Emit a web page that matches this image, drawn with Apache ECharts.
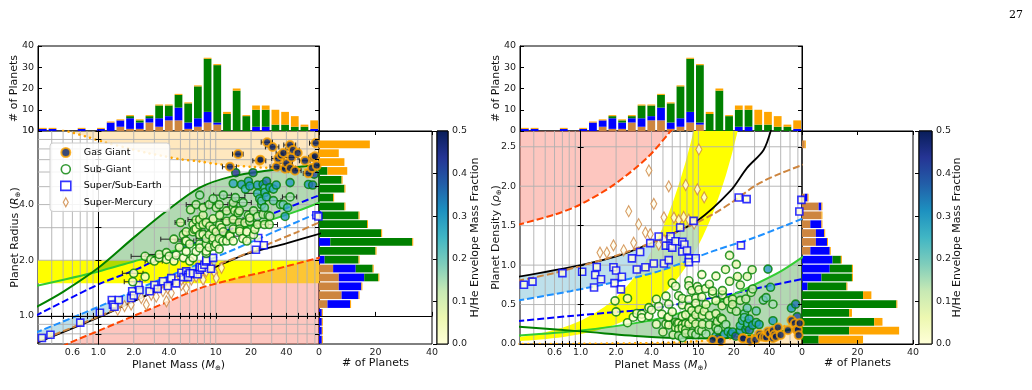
<!DOCTYPE html>
<html>
<head>
<meta charset="utf-8">
<script src="https://cdn.jsdelivr.net/npm/echarts@6/dist/echarts.min.js"></script>
<style>
  html, body { margin: 0; padding: 0; background: #fff; }
  #chart { width: 1032px; height: 390px; }
</style>
</head>
<body>
<div id="chart"></div>
<script>
var FONT = 'DejaVu Sans';

// ---- axis limits / ticks ----
var X0 = -0.515, X1 = 1.88;      // log10 mass limits
var R0 = -0.152, R1 = 1.0;       // log10 radius limits
var massGrid = [0.4,0.5,0.6,0.7,0.8,0.9,1,2,3,4,5,6,7,8,9,10,20,30,40,50,60,70];
var massTicks = [0.6,1,2,4,10,20,40];
var massTickLabels = ['0.6','1.0','2.0','4.0','10','20','40'];
var radiusGrid = [0.8,0.9,1,2,3,4,5,6,7,8,9,10];
var radiusTicks = [1,2,4,10];
var radiusTickLabels = ['1.0','2.0','4.0','10'];
var densityGrid = [0.5,1,1.5,2,2.5];
var densityTicks = [0,0.5,1,1.5,2,2.5];

// ---- histograms (stacked: mercury, earth, sub-giant, gas giant) ----
// mass: 29 log bins, left to right
var massHistMercury = [0,0,0,0,0,0,0,0,2,1,1,4,2,5,5,1,2,4,3,0,0,0,0,0,0,0,0,0,0];
var massHistEarth   = [1,1,0,0,1,0,1,4,3,5,3,2,4,2,6,3,4,5,1,0,0,0,2,2,0,0,0,0,1];
var massHistSub     = [0,0,0,0,0,0,0,0,0,1,1,1,6,5,6,9,15,25,27,8,19,7,8,8,3,3,2,2,0];
var massHistGas     = [0,0,0,0,0,0,0,0,0,0,0,0,0,0,0,0,0,0,0,1,1,0,2,2,7,6,5,1,4];
// radius: 24 log bins, top to bottom
var radHistMercury = [0,0,0,0,0,0,0,0,0,0,0,0,0,0,0,5,7,7,8,3,0,0,0,0];
var radHistEarth   = [0,0,0,0,0,0,0,0,0,1,0,0,4,0,2,8,9,8,6,8,1,1,1,1];
var radHistSub     = [0,0,0,0,3,8,9,5,9,13,17,22,29,20,12,6,5,0,0,0,0,0,0,0];
var radHistGas     = [0,18,7,9,7,0,0,0,0,0,0,0,0,0,0,0,0,0,0,0,0,0,0,0];
// density: 24 linear bins, top to bottom
var denHistMercury = [0,1,0,0,0,0,0,1,6,7,3,5,5,3,0,0,0,0,0,0,0,0,0,0];
var denHistEarth   = [0,0,0,0,0,0,0,1,1,0,4,3,4,7,11,10,7,2,0,0,0,0,0,0];
var denHistSub     = [0,0,0,0,0,0,0,0,0,0,0,0,0,0,3,8,11,14,22,34,17,26,17,6];
var denHistGas     = [0,0,0,0,0,0,0,0,0,0,0,0,0,0,0,0,0,0,3,0,1,3,18,16];

// ---- planets: [mass, radius, H/He fraction, mass error] ----
var gasGiants = [
  [13.2,6.4,0.5,1.8],[15.5,7.5,0.5,1.6],[23.7,6.9,0.5,3],[24,7.0,0.5,0],[27.4,8.7,0.5,3],
  [30.5,8.2,0.5,4],[33,6.4,0.5,4],[34,7.1,0.5,4],[36,7.4,0.5,0],[37.7,7.6,0.5,5],
  [38.9,6.25,0.5,5],[40,6.7,0.5,5],[43,8.4,0.5,5],[43,6.3,0.5,5],[44.3,7.2,0.5,6],
  [45.5,7.9,0.5,6],[47.4,6.1,0.5,6],[50,7.6,0.5,0],[57.6,6.9,0.5,6],[61.7,5.9,0.5,6],
  [66,6.3,0.5,0],[68,7.2,0.5,6],[70,7.3,0.5,6],[71,8.6,0.5,8],[72.5,6.5,0.5,5]
];
var subGiants = [
  [1.96,1.53,0.01,0.3],[2.0,1.70,0.01,0.4],[2.5,1.63,0.01,0],[2.5,2.10,0.02,0.6],[2.8,2.02,0.02,0],
  [3.0,1.98,0.02,0.5],[3.3,2.06,0.02,0],[3.3,2.15,0.02,0.8],[3.8,2.20,0.02,0],[3.8,2.02,0.02,0],
  [4.0,2.10,0.02,0.8],[4.4,1.98,0.02,0],[4.4,2.60,0.03,1.0],[4.6,2.13,0.02,0],[4.9,2.35,0.03,0],
  [5.0,3.20,0.08,0.5],[5.3,2.06,0.02,0],[5.3,2.75,0.04,0],[5.5,2.54,0.03,1.0],[5.6,2.23,0.02,0],
  [5.6,2.85,0.05,0],[5.6,2.54,0.03,0],[6.0,1.98,0.02,0],[6.0,2.45,0.03,0],[6.1,3.75,0.10,0],
  [6.4,2.06,0.02,0],[6.4,2.85,0.05,1.2],[6.4,3.12,0.06,0],[6.6,2.93,0.05,0],[6.8,2.23,0.02,0],
  [6.8,2.95,0.05,0],[6.8,3.30,0.07,0],[6.8,4.00,0.12,1.2],[7.3,2.45,0.03,0],[7.3,2.75,0.04,0],
  [7.3,3.10,0.06,0],[7.3,3.32,0.07,1.5],[7.3,4.50,0.15,0],[7.3,2.33,0.03,0],[7.8,3.12,0.06,0],
  [7.8,3.50,0.08,0],[7.8,3.85,0.10,0],[7.8,2.76,0.04,0],[8.3,2.18,0.02,0],[8.3,2.45,0.03,0],
  [8.3,2.62,0.04,1.5],[8.3,3.20,0.06,0],[8.3,2.24,0.02,0],[8.8,2.35,0.03,0],[8.8,2.75,0.04,0],
  [8.8,4.00,0.12,0],[8.9,3.06,0.05,2],[9.5,2.54,0.03,0],[9.5,2.95,0.05,0],[9.5,3.35,0.07,0],
  [9.5,4.30,0.14,0],[9.5,2.64,0.04,0],[9.8,2.38,0.03,0],[10.1,2.45,0.03,0],[10.1,2.85,0.05,2],
  [10.1,3.85,0.10,0],[10.7,2.30,0.02,0],[10.7,2.62,0.04,0],[10.7,4.00,0.12,2],[10.8,3.10,0.06,0],
  [10.8,3.50,0.08,0],[11.2,3.00,0.05,0],[11.5,2.54,0.03,0],[11.6,2.85,0.05,0],[11.6,4.50,0.15,2],
  [12.4,2.54,0.03,0],[12.4,3.25,0.07,0],[12.4,3.70,0.09,2],[13.2,2.75,0.04,0],[13.2,2.70,0.04,3],
  [14.1,2.95,0.05,0],[14.1,2.54,0.03,0],[14.1,3.32,0.07,3],[14.1,3.85,0.10,0],[14.1,4.10,0.12,0],
  [14.1,5.20,0.28,0],[14.5,3.70,0.09,0],[14.7,4.36,0.15,3],[14.8,5.95,0.45,0],[15.5,3.61,0.09,0],
  [15.9,3.20,0.07,3],[15.9,3.70,0.10,0],[16.0,2.95,0.05,0],[16.0,2.87,0.05,0],[16.6,5.14,0.30,0],
  [17.0,2.62,0.04,0],[17.1,4.10,0.15,3],[17.7,3.19,0.07,0],[17.9,4.85,0.25,0],[18.4,2.85,0.05,0],
  [18.4,2.54,0.04,0],[19.0,5.35,0.30,0],[19.0,3.50,0.10,0],[19.5,3.25,0.08,4],[19.5,3.39,0.08,0],
  [19.5,5.04,0.30,0],[20.8,5.95,0.40,0],[21.0,2.75,0.05,0],[21.0,3.70,0.12,4],[21.5,2.93,0.06,0],
  [22.7,5.10,0.30,0],[22.7,3.45,0.10,0],[22.7,3.12,0.08,0],[22.7,4.60,0.25,5],[23.7,4.30,0.25,0],
  [24.6,4.00,0.20,0],[24.6,4.18,0.22,0],[25.3,3.54,0.12,0],[25.3,5.14,0.32,0],[26.0,3.85,0.20,0],
  [26.2,4.90,0.22,0],[26.2,4.65,0.25,0],[26.0,3.12,0.08,0],[27.0,4.40,0.28,0],[27.1,5.35,0.35,0],
  [28.0,3.50,0.12,0],[28.6,3.12,0.08,5],[28.9,3.46,0.12,0],[28.9,4.94,0.30,0],[31.0,4.85,0.25,0],
  [31.0,4.20,0.20,5],[32.8,5.10,0.30,0],[35.6,4.00,0.18,0],[37.6,4.00,0.20,0],[39.0,3.45,0.30,0],
  [41.0,3.85,0.25,0],[43.0,4.40,0.15,6],[43.0,5.26,0.30,0],[61.7,5.14,0.30,0],[67.0,5.10,0.35,0],
  [69.0,5.84,0.40,0]
];
var superEarths = [
  [0.33,0.76],[0.39,0.79],[0.70,0.92],[1.03,1.04],[1.30,1.22],[1.33,1.15],[1.37,1.12],[1.49,1.22],
  [1.90,1.25],[1.94,1.36],[2.0,1.29],[2.2,1.47],[2.24,1.38],[2.73,1.36],[3.0,1.47],[3.2,1.40],
  [3.55,1.54],[3.9,1.45],[4.18,1.60],[4.6,1.50],[5.1,1.71],[5.3,1.62],[5.6,1.74],[5.8,1.67],
  [5.8,1.62],[6.0,1.70],[6.4,1.70],[7.0,1.68],[7.3,1.78],[7.3,1.84],[7.6,1.82],[8.0,1.89],
  [8.3,1.97],[8.3,2.00],[9.1,1.80],[9.5,2.06],[22,2.28],[23,2.64],[25.7,2.41],[72,3.5],[75,3.45]
];
var superMercuries = [
  [1.46,1.08],[1.67,1.13],[1.9,1.15],[2.32,1.25],[2.56,1.15],[2.82,1.30],[3.11,1.27],[3.55,1.36],
  [3.8,1.20],[3.9,1.41],[4.18,1.33],[4.6,1.54],[5.1,1.47],[5.1,1.57],[5.6,1.41],[6.2,1.57],
  [6.8,1.63],[7.5,1.67],[7.8,1.57],[8.3,1.74],[9.2,1.82],[9.8,1.71],[10.1,1.60],[11.2,1.82]
];

// ---- model curves, mass-radius plane [M, R] ----
var ironMR      = [[0.29,0.57],[0.53,0.70],[1,0.83],[2,1.0],[4,1.2],[7.3,1.41],[14,1.58],[27,1.74],[80,2.08]];
var rockyMR     = [[0.29,0.71],[1,0.98],[3.67,1.43],[10,1.84],[18.7,2.17],[40,2.47],[80,2.8]];
var mercuryMR   = [[0.29,0.72],[1,0.99],[3.67,1.44],[9.1,1.83],[19.9,2.22],[31.4,2.52],[49.4,2.84],[80,3.25]];
var waterMR     = [[0.29,0.81],[1,1.12],[2.18,1.4],[4.76,1.72],[13.5,2.25],[30,2.81],[80,3.68]];
var envMR       = [[0.29,1.0],[1,1.48],[2.18,1.8],[3.8,2.14],[13.5,2.95],[35,3.7],[80,4.55]];
var subLowMR    = [[0.29,1.45],[1,1.74],[2,1.97],[3.8,2.19],[7.3,2.48],[14,2.87],[27,3.25],[50,3.7],[80,4.15]];
var subHighMR   = [[0.29,1.11],[0.5,1.35],[1,1.82],[2,2.65],[3.8,3.69],[7.3,4.94],[14,5.7],[27,6.1],[60,6.47],[80,6.55]];
var giantMR     = [[0.5,10.1],[0.6,9.8],[0.8,9.3],[1.12,8.7],[1.89,8.0],[2.62,7.6],[3.64,7.3],[5.25,7.0],[7.3,6.84],[10.1,6.63],[20,6.4],[40,6.25],[80,6.1]];
var yellowBandR = [1.5, 2.0];
var blueFillMaxMass = 10;

// ---- model curves, mass-density plane [M, rho] ----
var ironMD    = [[0.29,1.51],[0.6,1.64],[1,1.77],[1.92,2.02],[3.67,2.36],[5.6,2.67],[6.2,2.76]];
var rockyMD   = [[0.29,0.85],[1,1.0],[2.2,1.13],[5.1,1.35],[9.75,1.56],[18.7,1.94],[25.8,2.23],[35.8,2.46],[42,2.75]];
var mercuryMD = [[0.29,0.8],[0.6,0.9],[1,0.99],[2,1.12],[5,1.34],[9.1,1.52],[13.5,1.65],[19.9,1.81],[31.4,2.02],[49.4,2.16],[80,2.28]];
var waterMD   = [[0.29,0.55],[0.82,0.67],[2.18,0.80],[4.76,0.93],[13.5,1.18],[30,1.35],[80,1.6]];
var envMD     = [[0.29,0.29],[0.82,0.355],[2.18,0.41],[3.67,0.44],[13.5,0.59],[35,0.72],[80,0.83]];
var subLowMD  = [[0.29,0.105],[1,0.17],[3.67,0.29],[7.3,0.4],[14,0.53],[27,0.72],[50,0.92],[80,1.12]];
var subHighMD = [[0.29,0.22],[1,0.16],[3.67,0.092],[9,0.072],[15,0.07],[27,0.1],[50,0.16],[80,0.22]];
var giantMD   = [[0.29,0.0],[1,0.002],[5,0.015],[10,0.036],[20,0.075],[40,0.16],[80,0.33]];

// ---- colours ----
var C_MERC = '#cd853f', C_EARTH = '#0000ff', C_SUB = '#008000', C_GAS = '#ffa500';
var ylgnbu = ['#ffffd9','#edf8b1','#c7e9b4','#7fcdbb','#41b6c4','#1d91c0','#225ea8','#253494','#081d58'];

function hexRgb(h){ return [parseInt(h.substr(1,2),16), parseInt(h.substr(3,2),16), parseInt(h.substr(5,2),16)]; }
function cmap(f){
  var t = Math.max(0, Math.min(1, f / 0.5)) * (ylgnbu.length - 1);
  var i = Math.min(Math.floor(t), ylgnbu.length - 2), u = t - i;
  var a = hexRgb(ylgnbu[i]), b = hexRgb(ylgnbu[i + 1]);
  return 'rgb(' + [0,1,2].map(function(k){ return Math.round(a[k] + u * (b[k] - a[k])); }).join(',') + ')';
}

var lg = Math.log10;
function mr(p){ return [lg(p[0]), lg(p[1])]; }
function md(p){ return [lg(p[0]), p[1]]; }
function rho(p){ return p[0] / Math.pow(p[1], 3); }

function interpAt(c, x){
  for (var i = 0; i < c.length - 1; i++) {
    if (x >= c[i][0] && x <= c[i+1][0]) {
      var t = (x - c[i][0]) / (c[i+1][0] - c[i][0]);
      return c[i][1] + t * (c[i+1][1] - c[i][1]);
    }
  }
  return x < c[0][0] ? c[0][1] : c[c.length-1][1];
}
function slice(c, x0, x1){
  var out = [[x0, interpAt(c, x0)]];
  c.forEach(function(p){ if (p[0] > x0 && p[0] < x1) out.push(p); });
  out.push([x1, interpAt(c, x1)]);
  return out;
}
function band(a, b, x0, x1){ return slice(a, x0, x1).concat(slice(b, x0, x1).reverse()); }
function crossing(a, b){
  var lo = Math.max(a[0][0], b[0][0]), hi = Math.min(a[a.length-1][0], b[b.length-1][0]), prev = null;
  for (var k = 0; k <= 400; k++) {
    var x = lo + (hi - lo) * k / 400, d = interpAt(a, x) - interpAt(b, x);
    if (prev !== null && (d > 0) !== (prev > 0)) return x;
    prev = d;
  }
  return lo;
}

// ---- grids ----
var grids = [
  {left: 38,  top: 46,  width: 281, height: 85},   // 0 L top hist
  {left: 38,  top: 131, width: 281, height: 213},  // 1 L main
  {left: 319, top: 131, width: 113, height: 213},  // 2 L right hist
  {left: 437, top: 131, width: 11,  height: 213},  // 3 L colourbar
  {left: 520, top: 46,  width: 282, height: 85},   // 4 R top hist
  {left: 520, top: 131, width: 282, height: 213},  // 5 R main
  {left: 802, top: 131, width: 111, height: 213},  // 6 R right hist
  {left: 919, top: 131, width: 13,  height: 213}   // 7 R colourbar
].map(function(g){ g.show = true; g.borderColor = '#000'; g.borderWidth = 1; g.containLabel = false; return g; });

var nameStyle = {fontFamily: FONT, fontSize: 11, color: '#111',
  rich: {i: {fontFamily: FONT, fontSize: 11, fontStyle: 'italic', color: '#111'},
         s: {fontFamily: FONT, fontSize: 7, color: '#111', padding: [7, 0, 0, 0]}}};

function fmtFrom(vals, labels){
  return function(v){
    for (var i = 0; i < vals.length; i++) if (Math.abs(lg(vals[i]) - v) < 1e-6) return labels[i];
    return '';
  };
}
function tickOnly(base){
  var a = {axisLine: {show: true, lineStyle: {color: '#000', width: 1}},
           axisTick: {show: true, inside: true, length: 3, lineStyle: {color: '#000'}},
           axisLabel: {show: false}, splitLine: {show: false}, z: 10, nameMoveOverlap: false};
  for (var k in base) a[k] = base[k];
  return a;
}
var massCats = massHistSub.map(function(_, i){ return 'm' + i; });
var radCats = radHistSub.map(function(_, i){ return 'r' + i; });

var xAxes = [
  // 0 L top hist
  {gridIndex: 0, type: 'category', data: massCats, show: false},
  // 1 L main bottom
  tickOnly({gridIndex: 1, type: 'value', min: X0, max: X1, position: 'bottom',
    axisTick: {show: true, inside: true, length: 3, customValues: massGrid.map(lg), lineStyle: {color: '#000'}},
    axisLabel: {show: true, customValues: massTicks.map(lg), formatter: fmtFrom(massTicks, massTickLabels), margin: 4, fontFamily: FONT, fontSize: 9.5, color: '#222'},
    name: 'Planet Mass ({i|M}{s|\u2295})', nameLocation: 'middle', nameGap: 14, nameTextStyle: nameStyle}),
  // 2 L main top
  tickOnly({gridIndex: 1, type: 'value', min: X0, max: X1, position: 'top',
    axisTick: {show: true, inside: true, length: 3, customValues: massGrid.map(lg), lineStyle: {color: '#000'}}}),
  // 3 L right hist bottom
  tickOnly({gridIndex: 2, type: 'value', min: 0, max: 40, interval: 20, position: 'bottom',
    axisTick: {show: true, inside: true, length: 4, lineStyle: {color: '#000'}},
    axisLabel: {show: true, margin: 4, fontFamily: FONT, fontSize: 9.5, color: '#222'},
    name: '# of Planets', nameLocation: 'middle', nameGap: 14, nameTextStyle: nameStyle}),
  // 4 L right hist top
  tickOnly({gridIndex: 2, type: 'value', min: 0, max: 40, interval: 20, position: 'top',
    axisTick: {show: true, inside: true, length: 4, lineStyle: {color: '#000'}}}),
  // 5 L colourbar
  {gridIndex: 3, type: 'value', min: 0, max: 1, show: false},
  // 6 R top hist
  {gridIndex: 4, type: 'category', data: massCats, show: false},
  // 7 R main bottom
  tickOnly({gridIndex: 5, type: 'value', min: X0, max: X1, position: 'bottom',
    axisTick: {show: true, inside: true, length: 3, customValues: massGrid.map(lg), lineStyle: {color: '#000'}},
    axisLabel: {show: true, customValues: massTicks.map(lg), formatter: fmtFrom(massTicks, massTickLabels), margin: 4, fontFamily: FONT, fontSize: 9.5, color: '#222'},
    name: 'Planet Mass ({i|M}{s|\u2295})', nameLocation: 'middle', nameGap: 14, nameTextStyle: nameStyle}),
  // 8 R main top
  tickOnly({gridIndex: 5, type: 'value', min: X0, max: X1, position: 'top',
    axisTick: {show: true, inside: true, length: 3, customValues: massGrid.map(lg), lineStyle: {color: '#000'}}}),
  // 9 R right hist bottom
  tickOnly({gridIndex: 6, type: 'value', min: 0, max: 40, interval: 20, position: 'bottom',
    axisTick: {show: true, inside: true, length: 4, lineStyle: {color: '#000'}},
    axisLabel: {show: true, margin: 4, fontFamily: FONT, fontSize: 9.5, color: '#222'},
    name: '# of Planets', nameLocation: 'middle', nameGap: 14, nameTextStyle: nameStyle}),
  // 10 R right hist top
  tickOnly({gridIndex: 6, type: 'value', min: 0, max: 40, interval: 20, position: 'top',
    axisTick: {show: true, inside: true, length: 4, lineStyle: {color: '#000'}}}),
  // 11 R colourbar
  {gridIndex: 7, type: 'value', min: 0, max: 1, show: false}
];

function histY(gi, pos, nameGap){
  var a = tickOnly({gridIndex: gi, type: 'value', min: 0, max: 40, interval: 10, position: pos,
    axisTick: {show: true, inside: true, length: 4, lineStyle: {color: '#000'}}});
  if (nameGap) {
    a.axisLabel = {show: true, margin: 4, fontFamily: FONT, fontSize: 9.5, color: '#222'};
    a.name = '# of Planets'; a.nameLocation = 'middle'; a.nameGap = nameGap; a.nameTextStyle = nameStyle;
  }
  return a;
}
function cbY(gi, gap){
  return tickOnly({gridIndex: gi, type: 'value', min: 0, max: 0.5, interval: 0.1, position: 'right',
    axisLine: {show: false},
    axisTick: {show: true, inside: true, length: 4, lineStyle: {color: '#000'}},
    axisLabel: {show: true, margin: 4, formatter: function(v){ return v.toFixed(1); }, fontFamily: FONT, fontSize: 9.5, color: '#222'},
    name: 'H/He Envelope Mass Fraction', nameLocation: 'middle', nameGap: gap, nameRotate: 90, nameTextStyle: nameStyle});
}

var yAxes = [
  histY(0, 'left', 18),                                     // 0
  histY(0, 'right', 0),                                     // 1
  tickOnly({gridIndex: 1, type: 'value', min: R0, max: R1, position: 'left',   // 2
    axisTick: {show: true, inside: true, length: 3, customValues: radiusGrid.map(lg), lineStyle: {color: '#000'}},
    axisLabel: {show: true, customValues: radiusTicks.map(lg), formatter: fmtFrom(radiusTicks, radiusTickLabels), margin: 4, fontFamily: FONT, fontSize: 9.5, color: '#222'},
    name: 'Planet Radius ({i|R}{s|\u2295})', nameLocation: 'middle', nameGap: 16, nameTextStyle: nameStyle}),
  tickOnly({gridIndex: 1, type: 'value', min: R0, max: R1, position: 'right',  // 3
    axisTick: {show: true, inside: true, length: 3, customValues: radiusGrid.map(lg), lineStyle: {color: '#000'}}}),
  {gridIndex: 2, type: 'category', data: radCats, inverse: true, show: false},     // 4
  tickOnly({gridIndex: 2, type: 'value', min: R0, max: R1, position: 'right', axisLine: {show: false}, // 5
    axisTick: {show: true, inside: true, length: 4, customValues: radiusGrid.map(lg), lineStyle: {color: '#000'}}}),
  cbY(3, 22),                                               // 6
  histY(4, 'left', 18),                                     // 7
  histY(4, 'right', 0),                                     // 8
  tickOnly({gridIndex: 5, type: 'value', min: 0, max: 2.7, position: 'left',  // 9
    axisTick: {show: true, inside: true, length: 3, customValues: densityTicks, lineStyle: {color: '#000'}},
    axisLabel: {show: true, margin: 4, customValues: densityTicks, formatter: function(v){ return v.toFixed(1); }, fontFamily: FONT, fontSize: 9.5, color: '#222'},
    name: 'Planet Density ({i|\u03c1}{s|\u2295})', nameLocation: 'middle', nameGap: 17, nameTextStyle: nameStyle}),
  tickOnly({gridIndex: 5, type: 'value', min: 0, max: 2.7, position: 'right',  // 10
    axisTick: {show: true, inside: true, length: 3, customValues: densityTicks, lineStyle: {color: '#000'}}}),
  {gridIndex: 6, type: 'category', data: radCats, inverse: true, show: false},     // 11
  tickOnly({gridIndex: 6, type: 'value', min: 0, max: 2.7, position: 'right', axisLine: {show: false}, // 12
    axisTick: {show: true, inside: true, length: 4, customValues: densityTicks, lineStyle: {color: '#000'}}}),
  cbY(7, 20)                                                // 13
];

var series = [];

// ---- histograms ----
function histSeries(xi, yi, stackName, horizontal, arrs){
  var cols = [C_MERC, C_EARTH, C_SUB, C_GAS];
  arrs.forEach(function(arr, k){
    var data = arr.map(function(v, i){
      var tot = arrs[0][i] + arrs[1][i] + arrs[2][i] + arrs[3][i];
      return tot === 0 ? '-' : v;
    });
    series.push({type: 'bar', xAxisIndex: xi, yAxisIndex: yi, stack: stackName, data: data,
      barCategoryGap: horizontal ? '13%' : '20%', barMinHeight: k === 3 ? 1 : 0,
      itemStyle: {color: cols[k]}, silent: true, z: 3});
  });
}
histSeries(0, 0, 'mL', false, [massHistMercury, massHistEarth, massHistSub, massHistGas]);
histSeries(6, 7, 'mR', false, [massHistMercury, massHistEarth, massHistSub, massHistGas]);
histSeries(3, 4, 'rL', true, [radHistMercury, radHistEarth, radHistSub, radHistGas]);
histSeries(9, 11, 'dR', true, [denHistMercury, denHistEarth, denHistSub, denHistGas]);

// ---- colourbars ----
function cbSeries(xi, yi){
  var stops = ylgnbu.map(function(c, i){ return {offset: i / (ylgnbu.length - 1), color: c}; });
  series.push({type: 'custom', xAxisIndex: xi, yAxisIndex: yi, silent: true, z: 3, data: [[0, 0]],
    renderItem: function(params, api){
      var a = api.coord([0, 0.5]), b = api.coord([1, 0]);
      return {type: 'rect', shape: {x: a[0], y: a[1], width: b[0] - a[0], height: b[1] - a[1]},
        style: {fill: new echarts.graphic.LinearGradient(0, 1, 0, 0, stops), stroke: '#000', lineWidth: 1}};
    }});
}
cbSeries(5, 6);
cbSeries(11, 13);

// ---- main panels ----
function gridLines(xi, yi, xs, ys){
  var data = xs.map(function(v){ return [v, 'v']; }).concat(ys.map(function(v){ return [v, 'h']; }));
  series.push({type: 'custom', xAxisIndex: xi, yAxisIndex: yi, silent: true, z: 2.5, clip: true,
    data: data.map(function(d, i){ return [i]; }),
    renderItem: function(params, api){
      var d = data[params.dataIndex], cs = params.coordSys, p;
      if (d[1] === 'v') {
        p = api.coord([d[0], 0.5])[0];
        return {type: 'line', shape: {x1: p, y1: cs.y, x2: p, y2: cs.y + cs.height}, style: {stroke: '#b0b0b0', lineWidth: 0.9}};
      }
      p = api.coord([0.5, d[0]])[1];
      return {type: 'line', shape: {x1: cs.x, y1: p, x2: cs.x + cs.width, y2: p}, style: {stroke: '#b0b0b0', lineWidth: 0.9}};
    }});
}
function area(xi, yi, pts, fill, z){
  series.push({type: 'custom', xAxisIndex: xi, yAxisIndex: yi, silent: true, clip: true, z: z, data: [[0]],
    renderItem: function(params, api){
      return {type: 'polygon', shape: {points: pts.map(function(p){ return api.coord(p); })}, style: {fill: fill}};
    }});
}
function curve(xi, yi, pts, color, width, dash){
  var ls = {color: color, width: width, type: dash || 'solid'};
  if (dash === 'dot') { ls.type = [0.1, 5.5]; ls.cap = 'round'; }
  series.push({type: 'line', xAxisIndex: xi, yAxisIndex: yi, data: pts, showSymbol: false, silent: true,
    smooth: 0.3, z: 4, clip: true, lineStyle: ls});
}
function errBars(xi, yi, rows){
  series.push({type: 'custom', xAxisIndex: xi, yAxisIndex: yi, silent: true, clip: true, z: 4.5,
    data: rows, encode: {x: [0, 2, 3], y: 1},
    renderItem: function(params, api){
      var y = api.value(1), a = api.coord([api.value(2), y]), b = api.coord([api.value(3), y]);
      var st = {stroke: '#222', lineWidth: 1};
      return {type: 'group', children: [
        {type: 'line', shape: {x1: a[0], y1: a[1], x2: b[0], y2: b[1]}, style: st},
        {type: 'line', shape: {x1: a[0], y1: a[1] - 2.5, x2: a[0], y2: a[1] + 2.5}, style: st},
        {type: 'line', shape: {x1: b[0], y1: b[1] - 2.5, x2: b[0], y2: b[1] + 2.5}, style: st}
      ]};
    }});
}
function points(xi, yi, name, rows, conv, sym, size, edge, bw, fillFn){
  series.push({type: 'scatter', name: name, xAxisIndex: xi, yAxisIndex: yi, symbol: sym, symbolSize: size, z: 5,
    silent: true, clip: true,
    data: rows.map(function(p){ return {value: conv(p), itemStyle: {color: fillFn(p), borderColor: edge, borderWidth: bw}}; })});
}

var fillSalmon = 'rgba(250,128,114,0.45)', fillYellow = '#ffff00', fillBlue = 'rgba(173,216,230,0.8)';
var fillGreen = 'rgba(0,128,0,0.3)', fillPeach = 'rgba(255,165,0,0.25)';

// left panel (mass-radius)
(function(){
  var xi = 1, yi = 2;
  gridLines(xi, yi, massGrid.map(lg), radiusGrid.map(lg));
  area(xi, yi, [[0.29,yellowBandR[0]],[80,yellowBandR[0]],[80,yellowBandR[1]],[0.29,yellowBandR[1]]].map(mr), fillYellow, 1);
  area(xi, yi, ironMR.map(mr).concat([mr([80,0.5]), mr([0.29,0.5])]), fillSalmon, 1.1);
  var rk = rockyMR.map(mr), wt = waterMR.map(mr);
  area(xi, yi, band(wt, rk, lg(0.29), lg(blueFillMaxMass)), fillBlue, 1.2);
  var sh = subHighMR.map(mr), sl = subLowMR.map(mr);
  area(xi, yi, band(sh, sl, crossing(sh, sl), lg(80)), fillGreen, 1.3);
  area(xi, yi, giantMR.map(mr).concat([mr([80,20]), mr([0.5,20])]), fillPeach, 1.4);

  curve(xi, yi, ironMR.map(mr), '#ff4500', 2, [7, 3]);
  curve(xi, yi, rockyMR.map(mr), '#000000', 1.8);
  curve(xi, yi, mercuryMR.map(mr), C_MERC, 2, [7, 3]);
  curve(xi, yi, wt, '#1e90ff', 2, [7, 3]);
  curve(xi, yi, envMR.map(mr), '#0000ff', 2, [7, 3]);
  curve(xi, yi, sl, '#32cd32', 2);
  curve(xi, yi, sh, '#008000', 2);
  curve(xi, yi, giantMR.map(mr), C_GAS, 2.5, 'dot');

  var eb = gasGiants.concat(subGiants).filter(function(p){ return p[3] > 0; }).map(function(p){
    return [lg(p[0]), lg(p[1]), lg(p[0] - p[3]), lg(p[0] + p[3])];
  });
  errBars(xi, yi, eb);
  points(xi, yi, 'Super-Mercury', superMercuries, mr, 'diamond', [6, 11], C_MERC, 1.2, function(){ return '#fffff0'; });
  points(xi, yi, 'Super/Sub-Earth', superEarths, mr, 'rect', 7, C_EARTH, 1.6, function(){ return cmap(0); });
  points(xi, yi, 'Sub-Giant', subGiants, mr, 'circle', 8, C_SUB, 1.6, function(p){ return cmap(p[2]); });
  points(xi, yi, 'Gas Giant', gasGiants, mr, 'circle', 8, C_GAS, 2, function(p){ return cmap(p[2]); });
})();

// right panel (mass-density)
(function(){
  var xi = 7, yi = 9;
  gridLines(xi, yi, massGrid.map(lg), densityGrid);
  area(xi, yi, ironMD.map(md).concat([md([6.2,3.2]), md([0.29,3.2])]), fillSalmon, 1.1);
  var bandMasses = [], m;
  for (m = 0.29; m < 81; m *= 1.12) bandMasses.push(m);
  var yb = bandMasses.map(function(mm){ return md([mm, mm / Math.pow(yellowBandR[1], 3)]); })
    .concat(bandMasses.slice().reverse().map(function(mm){ return md([mm, mm / Math.pow(yellowBandR[0], 3)]); }));
  area(xi, yi, yb, fillYellow, 1);
  var rk = rockyMD.map(md), wt = waterMD.map(md);
  area(xi, yi, band(rk, wt, lg(0.29), lg(blueFillMaxMass)), fillBlue, 1.2);
  var sh = subHighMD.map(md), sl = subLowMD.map(md);
  area(xi, yi, band(sl, sh, crossing(sl, sh), lg(80)), fillGreen, 1.3);
  area(xi, yi, giantMD.map(md).concat([md([80,-0.1]), md([0.29,-0.1])]), fillPeach, 1.4);

  curve(xi, yi, ironMD.map(md), '#ff4500', 2, [7, 3]);
  curve(xi, yi, rk, '#000000', 1.8);
  curve(xi, yi, mercuryMD.map(md), C_MERC, 2, [7, 3]);
  curve(xi, yi, wt, '#1e90ff', 2, [7, 3]);
  curve(xi, yi, envMD.map(md), '#0000ff', 2, [7, 3]);
  curve(xi, yi, sl, '#32cd32', 2);
  curve(xi, yi, sh, '#008000', 2);
  curve(xi, yi, giantMD.map(md), C_GAS, 2.5, 'dot');

  function dens(p){ return [lg(p[0]), rho(p)]; }
  points(xi, yi, 'Super-Mercury', superMercuries, dens, 'diamond', [6, 11], C_MERC, 1.2, function(){ return '#fffff0'; });
  points(xi, yi, 'Super/Sub-Earth', superEarths, dens, 'rect', 7, C_EARTH, 1.6, function(){ return cmap(0); });
  points(xi, yi, 'Sub-Giant', subGiants, dens, 'circle', 8, C_SUB, 1.6, function(p){ return cmap(p[2]); });
  points(xi, yi, 'Gas Giant', gasGiants, dens, 'circle', 8, C_GAS, 2, function(p){ return cmap(p[2]); });
})();

var option = {
  animation: false,
  backgroundColor: '#ffffff',
  title: {text: '27', left: 1004, top: 5, textStyle: {fontFamily: 'DejaVu Serif', fontSize: 11, fontWeight: 'normal', color: '#000'}},
  legend: {
    left: 50, top: 143, orient: 'vertical', itemWidth: 10, itemHeight: 9, itemGap: 6, z: 20,
    padding: [4, 8, 4, 10], backgroundColor: 'rgba(255,255,255,0.85)', borderColor: '#cccccc', borderWidth: 1, borderRadius: 3,
    selectedMode: false, textStyle: {fontFamily: FONT, fontSize: 9.5, color: '#000', padding: [0, 0, 0, 8]},
    data: [
      {name: 'Gas Giant', icon: 'circle', itemStyle: {color: '#081d58', borderColor: C_GAS, borderWidth: 2}},
      {name: 'Sub-Giant', icon: 'circle', itemStyle: {color: '#ffffff', borderColor: C_SUB, borderWidth: 1.6}},
      {name: 'Super/Sub-Earth', icon: 'rect', itemStyle: {color: '#ffffff', borderColor: C_EARTH, borderWidth: 1.6}},
      {name: 'Super-Mercury', icon: 'path://M3,0 L6,5.5 L3,11 L0,5.5 Z', itemStyle: {color: '#ffffff', borderColor: C_MERC, borderWidth: 1.2}}
    ]
  },
  grid: grids,
  xAxis: xAxes,
  yAxis: yAxes,
  series: series
};

var myChart = echarts.init(document.getElementById('chart'));
myChart.setOption(option);
</script>
</body>
</html>
